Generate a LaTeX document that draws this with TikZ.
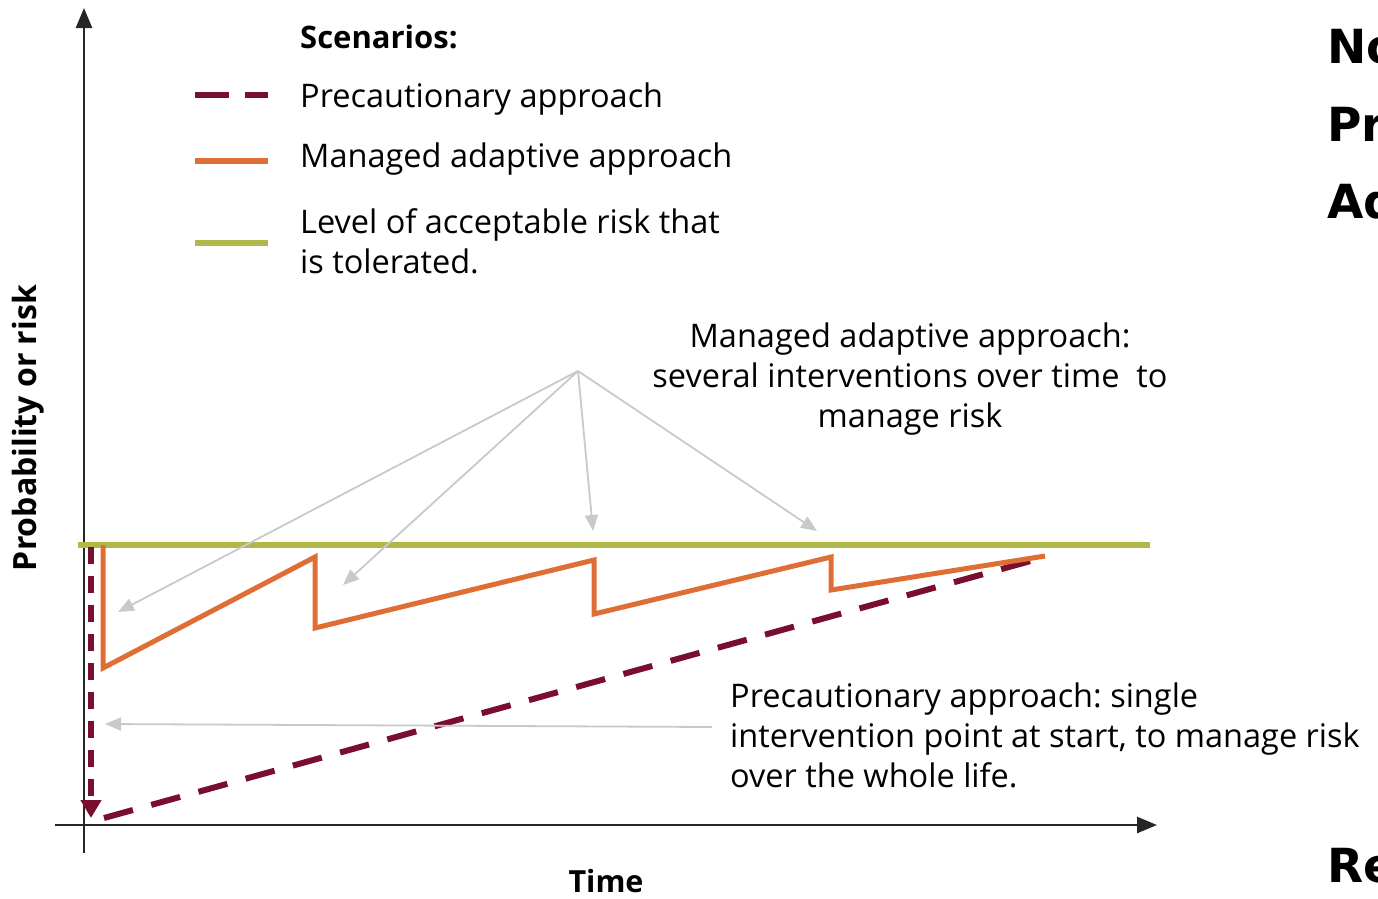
\documentclass[tikz,border=0pt]{standalone}
\usepackage{fontspec}
\setmainfont{Open Sans}
\newfontfamily\cutfont{DejaVu Sans}
\usetikzlibrary{arrows.meta, positioning}
\frenchspacing

\definecolor{precred}{HTML}{7A0E2E}
\definecolor{adaptorange}{HTML}{DF6E35}
\definecolor{riskgreen}{HTML}{B1B849}
\definecolor{notegray}{HTML}{C9C9C9}

\tikzset{
  axisline/.style={line width=2.6pt, black!85},
  riskline/.style={line width=6pt, riskgreen},
  adaptline/.style={line width=5pt, adaptorange, line join=miter},
  precline/.style={line width=6pt, precred, dash pattern=on 30pt off 19pt},
  noteline/.style={line width=1.8pt, notegray, -{Triangle[length=16pt,width=13pt]}},
  txt/.style={font=\fontsize{32.5}{40}\selectfont, inner sep=0pt, anchor=west},
  cut/.style={font=\cutfont\bfseries\fontsize{47}{50}\selectfont, inner sep=0pt, anchor=west}
}

\begin{document}
\begin{tikzpicture}[x=1pt, y=-1pt]
\useasboundingbox (0,0) rectangle (1378,898);

% axes
\coordinate (ybot) at (84,853);
\coordinate (ytop) at (84,8);
\coordinate (xleft) at (55,825);
\coordinate (xright) at (1157,825);
\draw[axisline, -{Triangle[length=20pt,width=16pt]}] (ybot) -- (ytop);
\draw[axisline, -{Triangle[length=20pt,width=16pt]}] (xleft) -- (xright);
\node[font=\bfseries\fontsize{32}{36}\selectfont, rotate=90, inner sep=0pt] (ylab) at (28,428) {Probability or risk};
\node[font=\bfseries\fontsize{30.5}{36}\selectfont, inner sep=0pt] (xlab) at (606,881) {Time};

% tolerated level
\draw[riskline] (78,545) -- (1150,545);

% precautionary approach
\draw[line width=6pt, precred, dash pattern=on 17pt off 12pt, -{Triangle[length=18pt,width=20pt]}] (91,547) -- (91,818);
\draw[precline] (104,818) -- (1045,557);

% managed adaptive approach
\draw[adaptline] (103,545) -- (103,668) -- (315,557) -- (315,628) -- (594,560)
  -- (594,614) -- (831,557) -- (831,590) -- (1045,556);

% legend
\node[txt, font=\bfseries\fontsize{31}{40}\selectfont] (scen) at (300,37) {Scenarios:};
\node[txt] (lprec) at (300,99) {Precautionary approach};
\node[txt] (ladapt) at (300,159) {Managed adaptive approach};
\node[txt, align=left] (lrisk) at (300,241) {Level of acceptable risk that\\is tolerated.};
\draw[line width=6pt, precred, dash pattern=on 34pt off 16pt] (195,95) -- (268,95);
\draw[line width=6pt, adaptorange] (195,161) -- (268,161);
\draw[line width=6pt, riskgreen] (195,243) -- (268,243);

% notes
\node[txt, anchor=center, align=center] (nadapt) at (910,379) {Managed adaptive approach:\\several interventions over time\ \ to\\manage risk};
\node[txt, align=left] (nprec) at (730,735) {Precautionary approach: single\\intervention point at start, to manage risk\\over the whole life.};
\coordinate (hub) at (578,371);
\foreach \tx/\ty in {118/612, 343/585, 593/531, 817/531}
  \draw[noteline] (hub) -- (\tx,\ty);
\draw[noteline] (712,727) -- (105,724);

% cut-off text at right edge
\node[cut] (c1) at (1327,47) {No};
\node[cut] (c2) at (1327,124) {Pr};
\node[cut] (c3) at (1327,201) {Ad};
\node[cut] (c4) at (1327,866) {Re};
\end{tikzpicture}
\end{document}
